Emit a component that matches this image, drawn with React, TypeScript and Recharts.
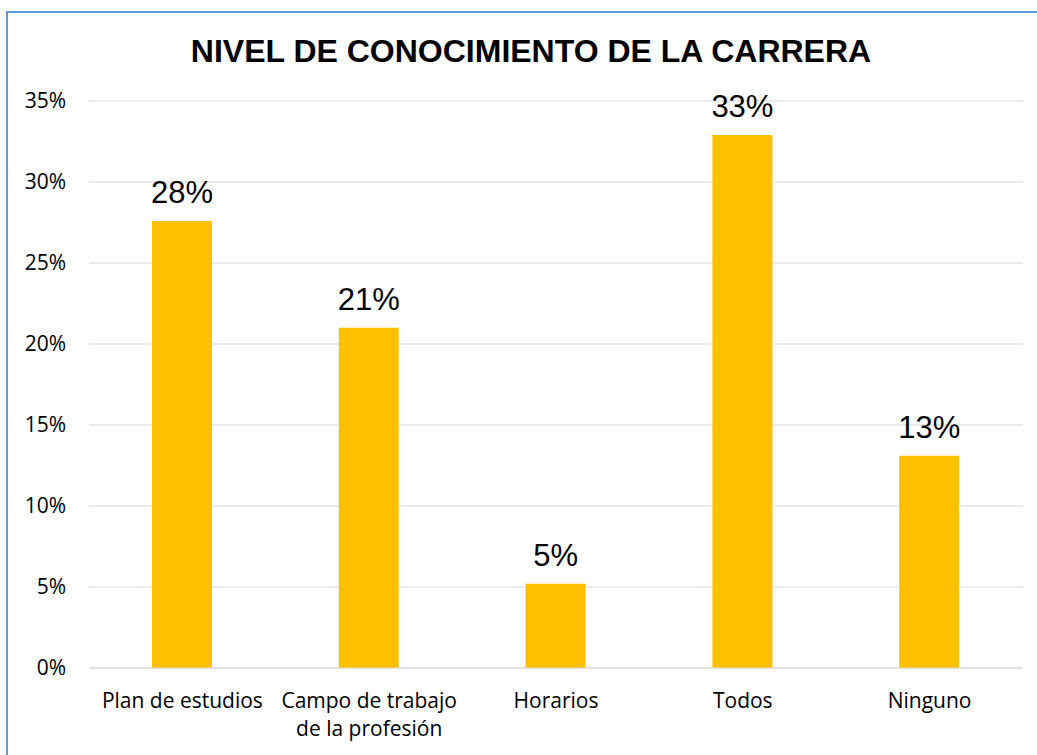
import { Bar, BarChart, CartesianGrid, LabelList, XAxis, YAxis } from 'recharts'

const categories = ['Plan de estudios', 'Campo de trabajo de la profesión', 'Horarios', 'Todos', 'Ninguno']
const shares = [0.276, 0.21, 0.052, 0.329, 0.131]
const yTicks = [0, 0.05, 0.1, 0.15, 0.2, 0.25, 0.3, 0.35]

const data = categories.map((name, i) => ({ name, value: shares[i] }))

const pct = (v: number) => `${Math.round(v * 100)}%`

// parte la etiqueta en líneas de ~17 caracteres, como hace Excel
const wrap = (s: string, max = 17) => {
  const lines: string[] = []
  let cur = ''
  for (const w of s.split(' ')) {
    const next = cur ? `${cur} ${w}` : w
    if (next.length > max && cur) {
      lines.push(cur)
      cur = w
    } else cur = next
  }
  if (cur) lines.push(cur)
  return lines
}

const CatTick = ({ x, y, payload }: any) => (
  <text x={x} y={y} textAnchor="middle" fill="#000" fontSize={21} fontFamily="'Open Sans', sans-serif">
    {wrap(String(payload.value)).map((line, i) => (
      <tspan key={i} x={x} dy={i === 0 ? 32 : 28}>{line}</tspan>
    ))}
  </text>
)

export default function App() {
  return (
    <div
      style={{
        position: 'absolute', left: 6, top: 11, width: 1031, height: 744,
        borderLeft: '2px solid #5b9bd5', borderTop: '2px solid #5b9bd5',
        boxSizing: 'border-box', background: '#fff',
      }}
    >
      <div
        style={{
          position: 'absolute', left: 123, top: 22, width: 800, textAlign: 'center',
          fontFamily: "'Liberation Sans', Arial, sans-serif", fontWeight: 700,
          fontSize: 32, lineHeight: '32px', color: '#000',
        }}
      >
        NIVEL DE CONOCIMIENTO DE LA CARRERA
      </div>
      <BarChart width={1029} height={742} data={data} margin={{ top: 88, right: 14, bottom: 27, left: 0 }}>
        <CartesianGrid stroke="#d9d9d9" vertical={false} />
        <XAxis
          dataKey="name"
          height={60}
          interval={0}
          tickLine={false}
          axisLine={{ stroke: '#d9d9d9' }}
          tick={<CatTick />}
        />
        <YAxis
          width={81}
          domain={[0, 0.35]}
          ticks={yTicks}
          tickFormatter={pct}
          axisLine={false}
          tickLine={false}
          tickMargin={17}
          tick={{ fontSize: 21, fill: '#000', fontFamily: "'Open Sans', sans-serif" }}
        />
        <Bar dataKey="value" fill="#ffc000" barSize={60} isAnimationActive={false}>
          <LabelList
            dataKey="value"
            position="top"
            offset={18}
            formatter={(v: any) => pct(Number(v))}
            style={{ fontSize: 31, fill: '#000', fontFamily: "'Liberation Sans', Arial, sans-serif" }}
          />
        </Bar>
      </BarChart>
    </div>
  )
}
